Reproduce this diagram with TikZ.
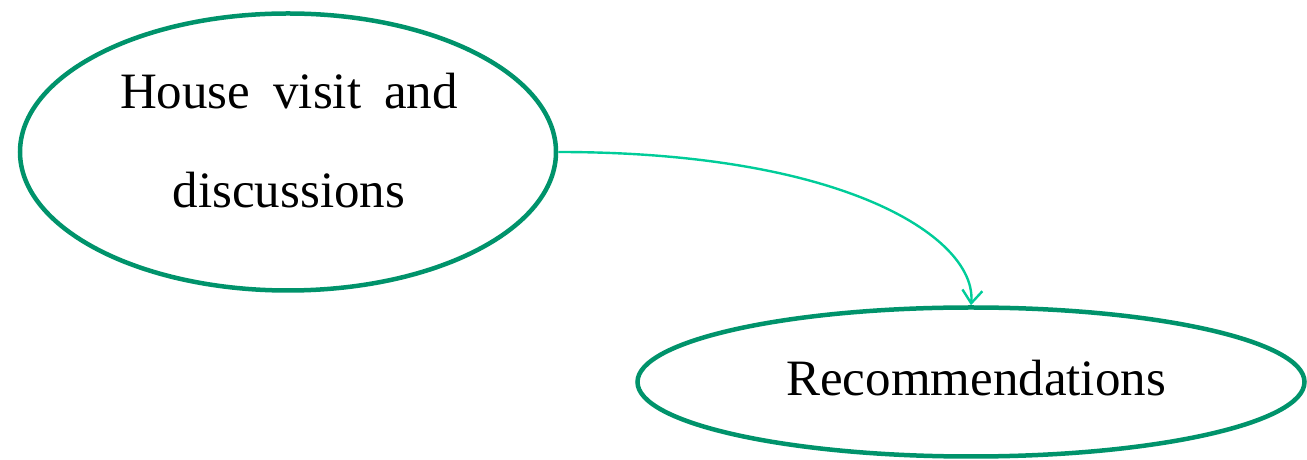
\documentclass[tikz,border=0pt]{standalone}
\usepackage{fontspec}
\setmainfont{Liberation Serif}
\usetikzlibrary{shapes.geometric,arrows.meta}
\definecolor{ringgreen}{HTML}{00936B}
\definecolor{linkgreen}{HTML}{00CC99}
\tikzset{
  ringnode/.style={ellipse, draw=ringgreen, line width=4.5pt, inner sep=0pt, align=center,
    font=\fontsize{51}{98}\selectfont},
  linkline/.style={draw=linkgreen, line width=2.4pt, -{Straight Barb[length=13pt,width=20pt,line width=2.4pt]}}
}
\begin{document}
\begin{tikzpicture}[x=1pt,y=1pt]
\useasboundingbox (0,0) rectangle (1307,460);
\node[ringnode, minimum width=536pt, minimum height=277pt] (visit) at (288,308) {};
\node[align=center, font=\fontsize{51}{99}\selectfont, inner sep=0pt] (visittext) at (289,319) {House\hspace{0.45em}visit\hspace{0.45em}and\\discussions};
\node[ringnode, minimum width=667pt, minimum height=149pt] (rec) at (971,78) {};
\node[font=\fontsize{51}{98}\selectfont, inner sep=0pt] (rectext) at (976,82) {Recommendations};
\draw[linkline] (visit.east) .. controls (850,308) and (977,220) .. (rec.north);
\end{tikzpicture}
\end{document}
